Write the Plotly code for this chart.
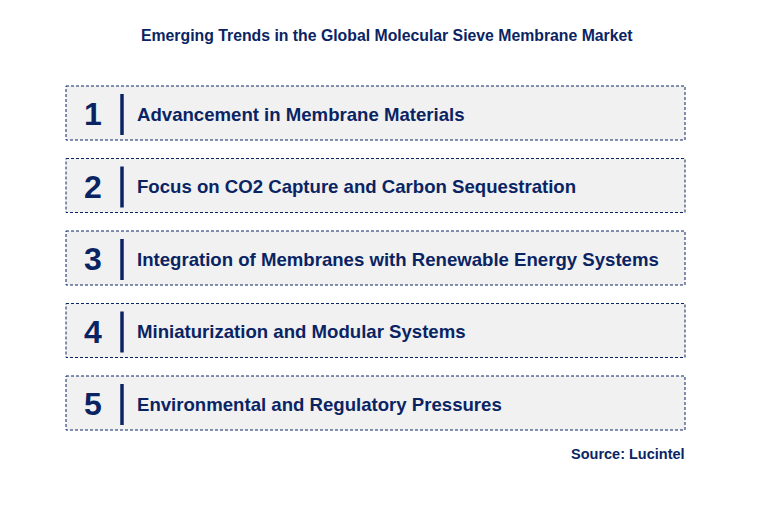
import plotly.graph_objects as go

title = "Emerging Trends in the Global Molecular Sieve Membrane Market"
numbers = ["1", "2", "3", "4", "5"]
trends = [
    "Advancement in Membrane Materials",
    "Focus on CO2 Capture and Carbon Sequestration",
    "Integration of Membranes with Renewable Energy Systems",
    "Miniaturization and Modular Systems",
    "Environmental and Regulatory Pressures",
]
source = "Source: Lucintel"

navy = "#0a2463"
W, H = 776, 507
off = 8  # page body offset

fig = go.Figure()
shapes = []
annotations = []

# box layout in pixel coords
top0, step, box_h = 86 - off, 72.5, 54
for i, (num, txt) in enumerate(zip(numbers, trends)):
    y0 = top0 + i * step
    y1 = y0 + box_h
    yc = (y0 + y1) / 2
    shapes.append(dict(type="rect", x0=66 - off, x1=685 - off, y0=y0, y1=y1,
                       fillcolor="#f1f1f1",
                       line=dict(color=navy, width=1, dash="3px,2px"), layer="below"))
    shapes.append(dict(type="line", x0=122 - off, x1=122 - off, y0=y0 + 8, y1=y1 - 5,
                       line=dict(color=navy, width=3.5)))
    annotations.append(dict(x=93 - off, y=yc + 1, text=f"<b>{num}</b>", showarrow=False,
                            font=dict(size=32, color=navy, family="Arial"),
                            xanchor="center", yanchor="middle"))
    annotations.append(dict(x=135 - off, y=yc + 1, text=f"<b>{txt}</b>", showarrow=False,
                            font=dict(size=18.6, color=navy, family="Arial"),
                            xanchor="left", yanchor="middle"))

annotations.append(dict(x=W / 2 - 1 - off, y=35 - off, text=f"<b>{title}</b>", showarrow=False,
                        font=dict(size=15.8, color=navy, family="Arial"),
                        xanchor="center", yanchor="middle"))
annotations.append(dict(x=687 - off, y=454 - off, text=f"<b>{source}</b>", showarrow=False,
                        font=dict(size=14.5, color=navy, family="Arial"),
                        xanchor="right", yanchor="middle"))

fig.update_layout(
    width=W, height=H,
    margin=dict(l=0, r=0, t=0, b=0),
    plot_bgcolor="white", paper_bgcolor="white",
    xaxis=dict(range=[0, W], visible=False, fixedrange=True),
    yaxis=dict(range=[H, 0], visible=False, fixedrange=True),
    shapes=shapes, annotations=annotations, showlegend=False,
)

fig.write_html("out.html")
